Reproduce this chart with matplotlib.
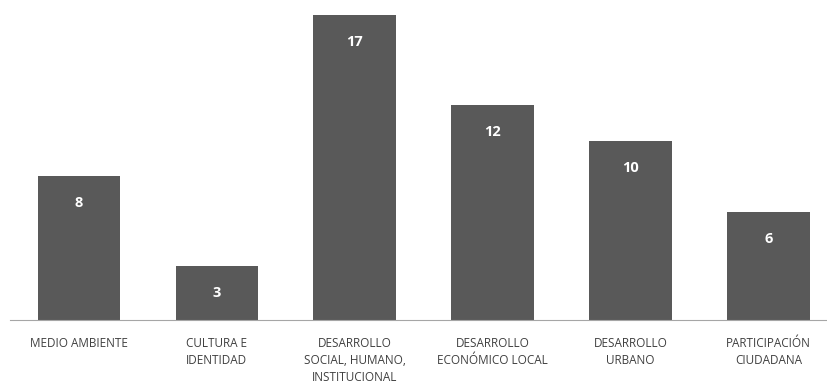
import numpy as np
import matplotlib
matplotlib.use("Agg")
import matplotlib.pyplot as plt

categorias = ["MEDIO AMBIENTE", "CULTURA E\nIDENTIDAD", "DESARROLLO\nSOCIAL, HUMANO,\nINSTITUCIONAL",
              "DESARROLLO\nECONÓMICO LOCAL", "DESARROLLO\nURBANO", "PARTICIPACIÓN\nCIUDADANA"]
valores = [8, 3, 17, 12, 10, 6]

fig = plt.figure(figsize=(8.28, 3.88), dpi=100)
ax = fig.add_axes([10/828, 68/388, 818/828, 305/388])

x = np.arange(len(valores))
ax.bar(x, valores, width=0.6, color="#595959")
# etiquetas de valor dentro de la barra
for xi, v in zip(x, valores):
    ax.annotate(str(v), (xi, v), xytext=(0, -27), textcoords="offset pixels",
                ha="center", va="center", color="white", fontweight="bold",
                fontsize=10.5, family="Open Sans")

ax.set_xlim(-0.5, 5.43)
ax.set_ylim(0, 17)
ax.set_yticks([])
ax.set_xticks(x)
ax.set_xticklabels(categorias, fontsize=8.5, color="#404040", family="Open Sans", linespacing=1.42)
ax.tick_params(axis="x", length=0, pad=12)
for s in ["top", "right", "left"]:
    ax.spines[s].set_visible(False)
ax.spines["bottom"].set_color("#a6a6a6")

fig.savefig("out.png", dpi=100)
